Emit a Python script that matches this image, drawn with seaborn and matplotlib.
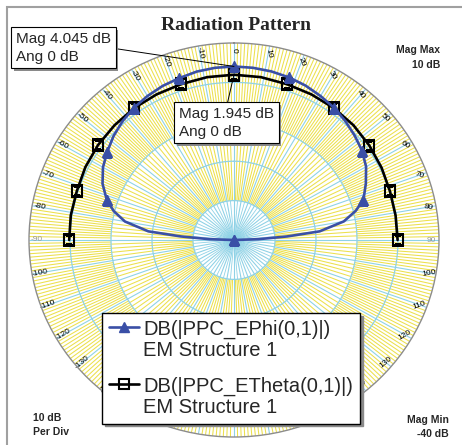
import numpy as np
import matplotlib
matplotlib.use("Agg")
import matplotlib.pyplot as plt
import matplotlib.patheffects as pe
from matplotlib.lines import Line2D
from matplotlib.patches import Rectangle
import pandas as pd
import seaborn as sns

# ---- data -------------------------------------------------------------
phi_angles = [-90, -88, -86, -84, -80, -76, -72, -66, -60, -54, -48, -42, -36,
              -30, -24, -18, -12, -6, 0, 6, 12, 18, 24, 30, 36, 42, 48, 54,
              60, 66, 72, 76, 80, 84, 86, 88, 90]
phi_db = [-40.0, -34.0, -27.0, -19.0, -13.0, -9.8, -7.4, -4.9, -3.1, -1.8,
          -0.5, 0.6, 1.5, 2.2, 2.8, 3.2, 3.7, 3.95, 4.045, 3.95, 3.75, 3.4,
          2.9, 2.2, 1.5, 0.6, -0.4, -1.4, -2.8, -4.8, -6.8, -9.4, -12.8,
          -19.0, -27.0, -34.0, -40.0]

theta_angles = [-90, -81, -72, -63, -54, -45, -36, -27, -18, -9, 0,
                9, 18, 27, 36, 45, 54, 63, 72, 81, 90]
theta_db = [0.2, 0.3, 0.3, 0.7, 1.0, 1.2, 1.4, 1.5, 1.6, 1.85, 1.945,
            1.85, 1.6, 1.5, 1.4, 1.2, 0.8, 0.4, 0.0, -0.1, -0.1]

marker_step = 18
mag_max, mag_min, db_per_div = 10, -40, 10
angle_labels = list(range(-160, 161, 10))

phi_label = "DB(|PPC_EPhi(0,1)|)\nEM Structure 1"
theta_label = "DB(|PPC_ETheta(0,1)|)\nEM Structure 1"

# ---- colours ----------------------------------------------------------
BLUE = "#3a4fa6"
YELLOW = "#ece04c"
CYAN = "#8fd2e6"
RIM = "#8c8c8c"

sns.set_theme(style="white")
plt.rcParams["font.family"] = ["Liberation Sans", "DejaVu Sans"]

W, H = 462, 445
fig = plt.figure(figsize=(W / 100, H / 100), dpi=100)
fig.patch.set_facecolor("white")

cx, cy, rx, ry = 234, 240, 205, 197
ax = fig.add_axes([(cx - rx) / W, (H - cy - ry) / H, 2 * rx / W, 2 * ry / H],
                  projection="polar")
ax.set_aspect("auto")
ax.set_theta_zero_location("N")
ax.set_theta_direction(-1)
ax.set_ylim(mag_min, mag_max)
ax.grid(False)
ax.set_xticks([])
ax.set_yticks([])
ax.set_facecolor("white")
ax.spines["polar"].set_color(RIM)
ax.spines["polar"].set_linewidth(1.0)

# ---- dial grid --------------------------------------------------------
deg = np.arange(0, 360)
fine = deg[deg % 10 != 0]
mid = deg[(deg % 2 == 0) & (deg % 10 != 0)]
ax.vlines(np.deg2rad(fine), -10, mag_max, colors=YELLOW, linewidth=0.75, zorder=1)
ax.vlines(np.deg2rad(mid), -30, -10, colors=YELLOW, linewidth=0.75, zorder=1)
five = deg[(deg % 5 == 0) & (deg % 10 != 0)]
ax.vlines(np.deg2rad(five), mag_min, -30, colors=CYAN, linewidth=0.6, zorder=1)
ax.vlines(np.deg2rad(deg[deg % 10 == 0]), mag_min, mag_max, colors=CYAN,
          linewidth=0.8, zorder=1.2)
ring = np.linspace(0, 2 * np.pi, 721)
for r in range(mag_min + db_per_div, mag_max, db_per_div):
    ax.plot(ring, np.full_like(ring, r), color=CYAN, linewidth=0.9, zorder=1.3)

for a in angle_labels:
    rot = a - 90 if a >= 0 else -a - 90
    if rot < -90:
        rot += 180
    if rot > 90:
        rot -= 180
    col = "#9a9a9a" if abs(a) == 90 else "black"
    ax.text(np.deg2rad(a), 8.2, str(a), rotation=rot, rotation_mode="anchor",
            ha="center", va="center", fontsize=6, color=col, zorder=2)

# ---- traces -----------------------------------------------------------
phi_df = pd.DataFrame({"ang": np.deg2rad(phi_angles), "db": phi_db})
theta_df = pd.DataFrame({"ang": np.deg2rad(theta_angles), "db": theta_db})
phi_marks = [i for i, a in enumerate(phi_angles) if a % marker_step == 0]
theta_marks = [i for i, a in enumerate(theta_angles) if a % marker_step == 0]

sns.lineplot(data=theta_df, x="ang", y="db", ax=ax, color="black",
             linewidth=1.9, marker="s", markersize=7.5, markevery=theta_marks,
             markerfacecolor="none", markeredgecolor="black",
             markeredgewidth=1.5, zorder=4, estimator=None)
sns.lineplot(data=phi_df, x="ang", y="db", ax=ax, color=BLUE,
             linewidth=1.9, marker="^", markersize=7, markevery=phi_marks,
             markerfacecolor=BLUE, markeredgecolor=BLUE,
             markeredgewidth=1.0, zorder=5, estimator=None)
ax.set_xlabel("")
ax.set_ylabel("")
ax.set_ylim(mag_min, mag_max)

# ---- marker readouts --------------------------------------------------
shadow = [pe.withSimplePatchShadow(offset=(2, -2), shadow_rgbFace="#8a8a8a", alpha=1)]
box = dict(boxstyle="square,pad=0.3", fc="white", ec="black", lw=0.8)
a1 = ax.annotate(f"Mag {phi_db[phi_angles.index(0)]} dB\nAng 0 dB",
                 xy=(0, phi_db[phi_angles.index(0)]), xycoords="data",
                 xytext=(16, H - 32), textcoords="figure pixels",
                 ha="left", va="top", fontsize=11, linespacing=1.35, bbox=box,
                 arrowprops=dict(arrowstyle="-", color="black", lw=0.7,
                                 shrinkA=0, shrinkB=0, relpos=(1, 0.5)),
                 zorder=8)
a2 = ax.annotate(f"Mag {theta_db[theta_angles.index(0)]} dB\nAng 0 dB",
                 xy=(0, theta_db[theta_angles.index(0)]), xycoords="data",
                 xytext=(179, H - 107), textcoords="figure pixels",
                 ha="left", va="top", fontsize=11, linespacing=1.35, bbox=box,
                 arrowprops=dict(arrowstyle="-", color="black", lw=0.7,
                                 shrinkA=0, shrinkB=0, relpos=(0.5, 1)),
                 zorder=8)
for a in (a1, a2):
    a.get_bbox_patch().set_path_effects(shadow)

# ---- legend -----------------------------------------------------------
h_phi = Line2D([], [], color=BLUE, linewidth=1.9, marker="^", markersize=7,
               markerfacecolor=BLUE, markeredgecolor=BLUE)
h_theta = Line2D([], [], color="black", linewidth=1.9, marker="s",
                 markersize=7.5, markerfacecolor="none",
                 markeredgecolor="black", markeredgewidth=1.5)
leg = fig.legend([h_phi, h_theta], [phi_label, theta_label],
                 loc="upper left", bbox_to_anchor=(102 / W, 1 - 313 / H),
                 frameon=True, fancybox=False,
                 shadow={"color": "#8a8a8a", "alpha": 1},
                 edgecolor="black", framealpha=1, fontsize=14.5,
                 handlelength=1.5, handletextpad=0.2, borderpad=0.35,
                 labelspacing=0.85, borderaxespad=0, numpoints=1)
leg.get_frame().set_linewidth(1.0)
for t in leg.get_texts():
    t.set_linespacing(1.1)
for col in leg._legend_handle_box.get_children():
    for item in col.get_children():
        item.align = "top"

# ---- titles and scale notes -------------------------------------------
fig.text(236 / W, 1 - 25 / H, "Radiation Pattern", ha="center", va="center",
         fontsize=14, fontweight="bold", family="Liberation Serif")
note = dict(fontsize=7.5, fontweight="bold", va="center")
fig.text(440 / W, 1 - 50 / H, "Mag Max", ha="right", **note)
fig.text(440 / W, 1 - 65 / H, f"{mag_max} dB", ha="right", **note)
fig.text(33 / W, 1 - 418 / H, f"{db_per_div} dB", ha="left", **note)
fig.text(33 / W, 1 - 432 / H, "Per Div", ha="left", **note)
fig.text(449 / W, 1 - 420 / H, "Mag Min", ha="right", **note)
fig.text(449 / W, 1 - 434 / H, f"{mag_min} dB", ha="right", **note)

fig.patches.append(Rectangle((7 / W, -0.1), 1.2, 1.1 - 7 / H,
                             transform=fig.transFigure, fill=False,
                             edgecolor="#a0a0a0", linewidth=1.5, zorder=0))

fig.savefig("out.png", dpi=100)
